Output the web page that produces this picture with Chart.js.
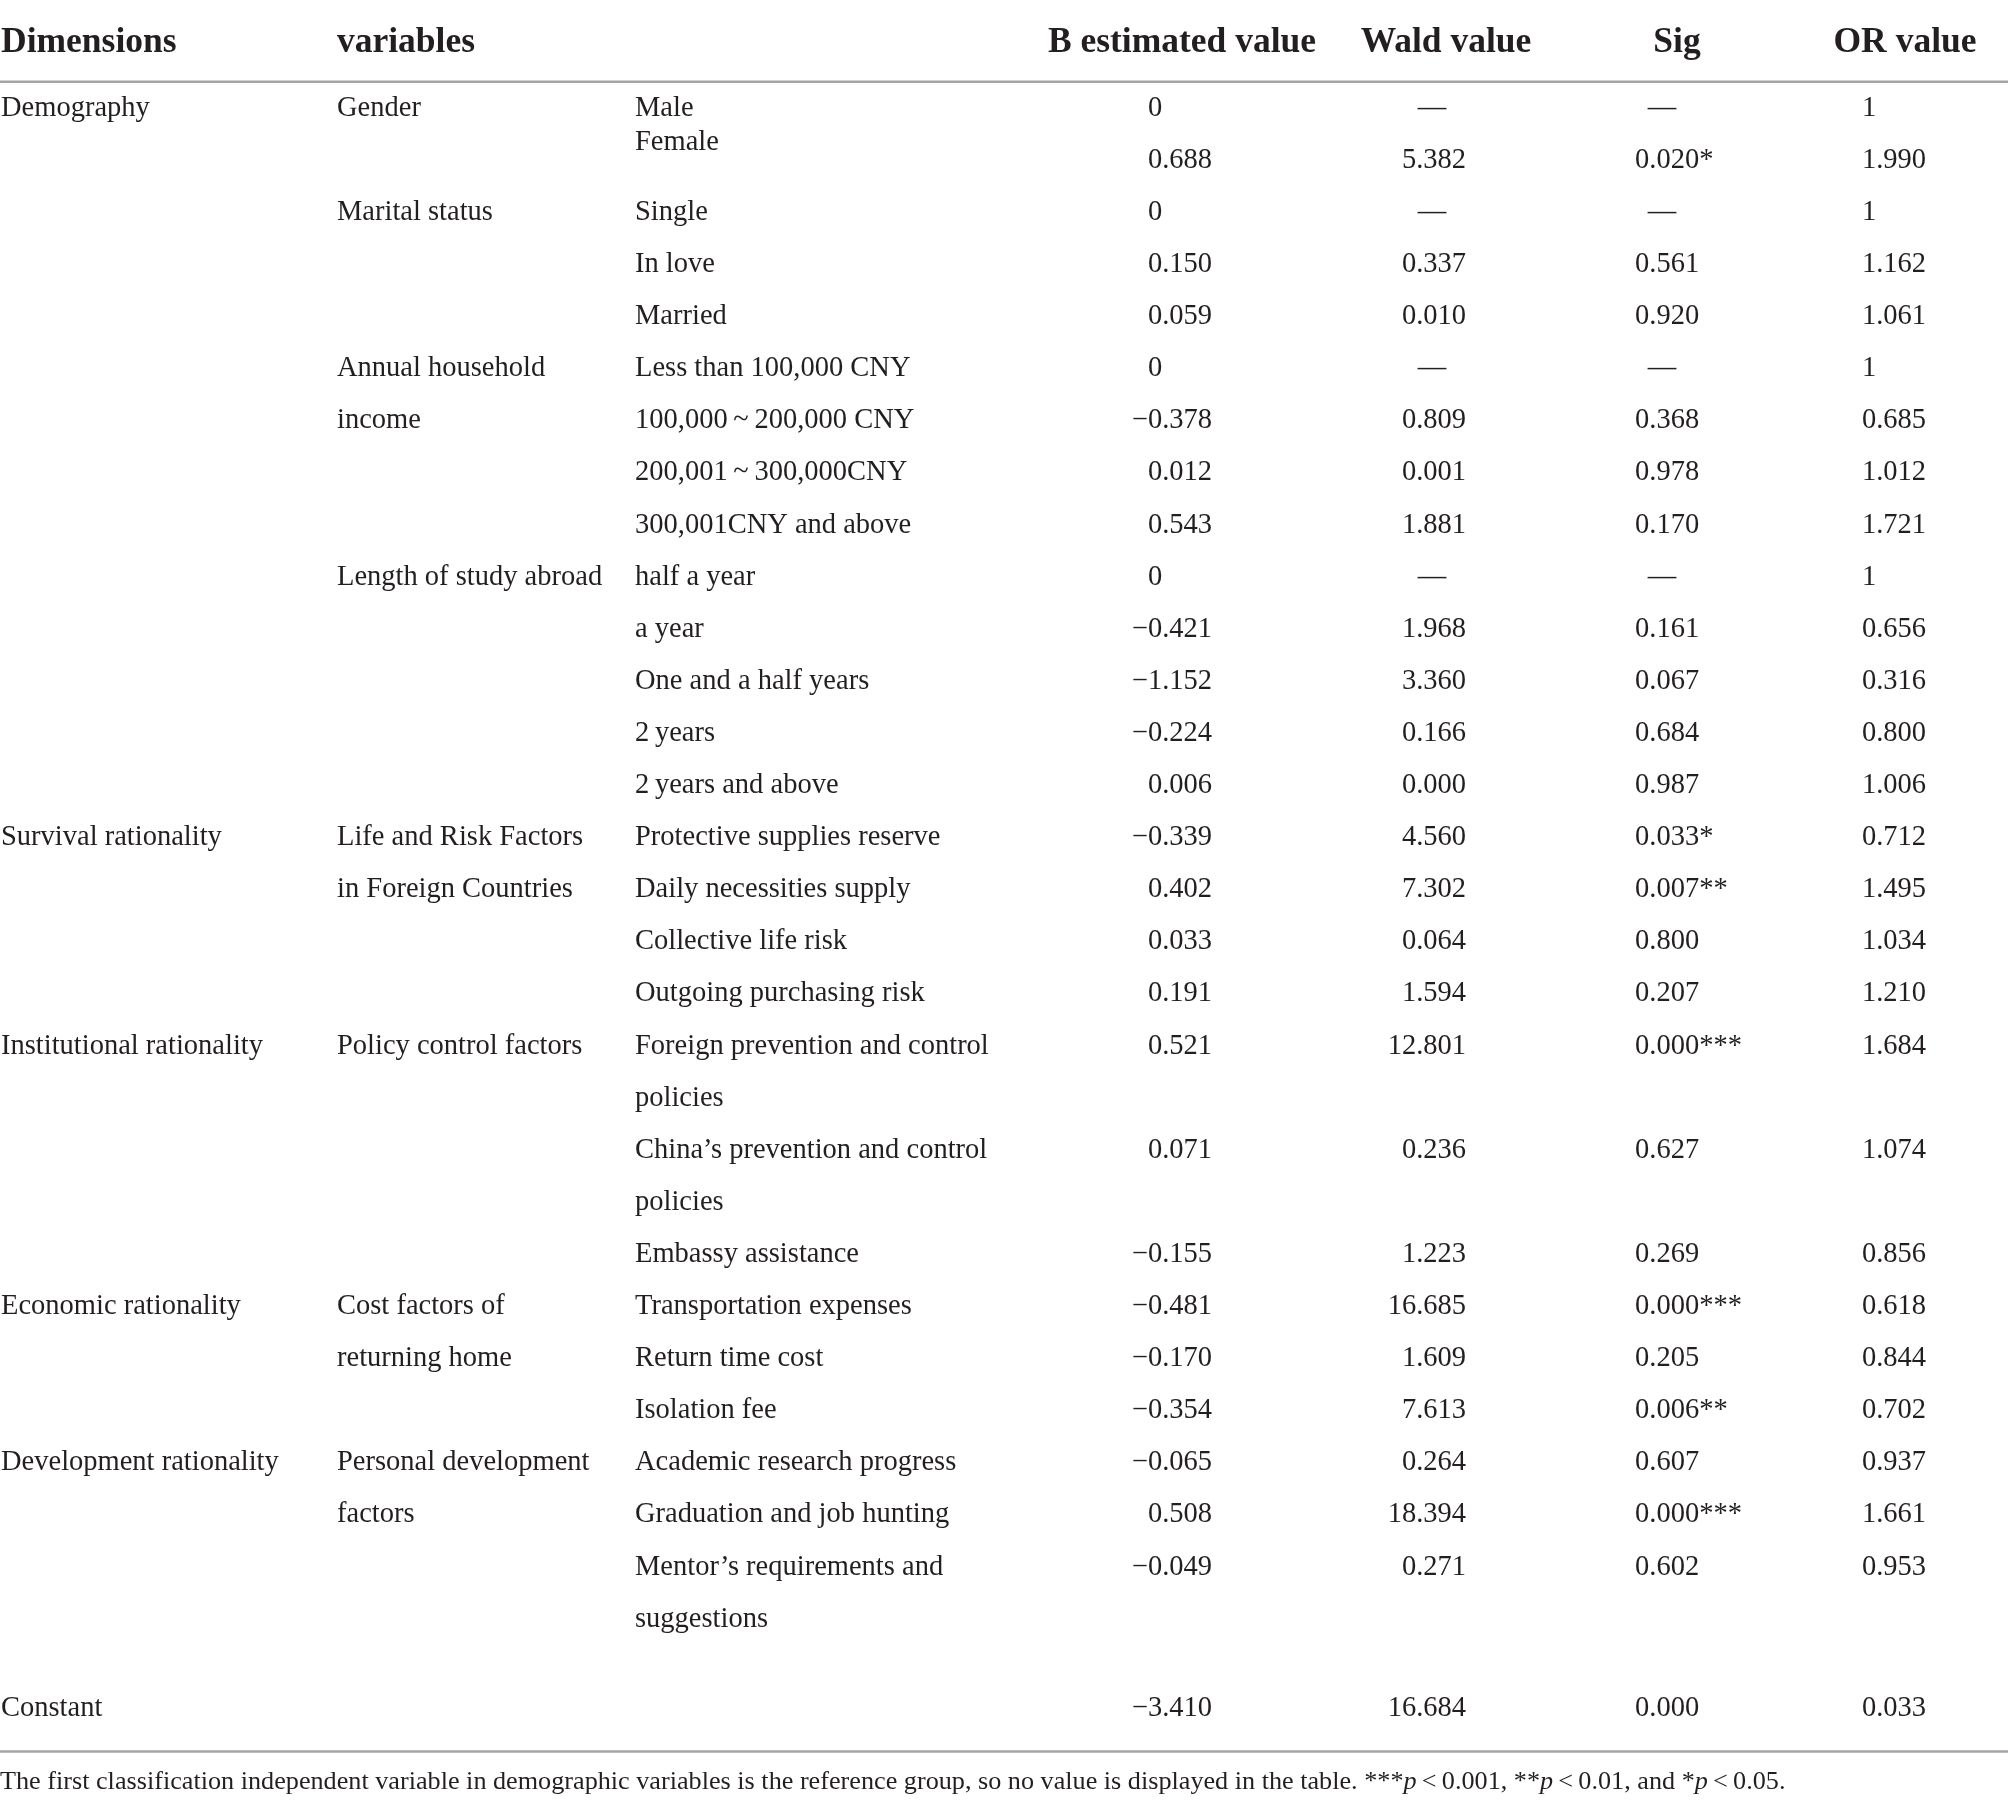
<!DOCTYPE html>
<html>
<head>
<meta charset="utf-8">
<script src="https://cdn.jsdelivr.net/npm/chart.js@4.4.1/dist/chart.umd.min.js"></script>
<style>
  html, body { margin: 0; padding: 0; background: #fff; }
  #wrap { position: relative; width: 2008px; height: 1807px; }
</style>
</head>
<body>
<div id="wrap"><canvas id="tbl"></canvas></div>
<script>
// ══════════════════════════════════════════════
//  DATA
// ══════════════════════════════════════════════
const headers = ['Dimensions', 'variables', 'B estimated value', 'Wald value', 'Sig', 'OR value'];

const dimensionNames = ['Demography', 'Survival rationality', 'Institutional rationality', 'Economic rationality', 'Development rationality'];

const variableNames = ['Gender', 'Marital status', 'Annual household\nincome', 'Length of study abroad',
  'Life and Risk Factors\nin Foreign Countries', 'Policy control factors', 'Cost factors of\nreturning home',
  'Personal development\nfactors'];
const variableDimension = [0, 0, 0, 0, 1, 2, 3, 4];

const categoryNames = ['Male', 'Female', 'Single', 'In love', 'Married',
  'Less than 100,000 CNY', '100,000\u2009~\u2009200,000 CNY', '200,001\u2009~\u2009300,000CNY', '300,001CNY and above',
  'half a year', 'a year', 'One and a half years', '2\u2009years', '2\u2009years and above',
  'Protective supplies reserve', 'Daily necessities supply', 'Collective life risk', 'Outgoing purchasing risk',
  'Foreign prevention and control\npolicies', 'China\u2019s prevention and control\npolicies', 'Embassy assistance',
  'Transportation expenses', 'Return time cost', 'Isolation fee',
  'Academic research progress', 'Graduation and job hunting', 'Mentor\u2019s requirements and\nsuggestions'];
const categoryVariable = [0, 0, 1, 1, 1, 2, 2, 2, 2, 3, 3, 3, 3, 3, 4, 4, 4, 4, 5, 5, 5, 6, 6, 6, 7, 7, 7];

const bValues = ['0', '0.688', '0', '0.150', '0.059', '0', '−0.378', '0.012', '0.543',
  '0', '−0.421', '−1.152', '−0.224', '0.006', '−0.339', '0.402', '0.033', '0.191',
  '0.521', '0.071', '−0.155', '−0.481', '−0.170', '−0.354', '−0.065', '0.508', '−0.049'];
const waldValues = ['—', '5.382', '—', '0.337', '0.010', '—', '0.809', '0.001', '1.881',
  '—', '1.968', '3.360', '0.166', '0.000', '4.560', '7.302', '0.064', '1.594',
  '12.801', '0.236', '1.223', '16.685', '1.609', '7.613', '0.264', '18.394', '0.271'];
const sigValues = ['—', '0.020*', '—', '0.561', '0.920', '—', '0.368', '0.978', '0.170',
  '—', '0.161', '0.067', '0.684', '0.987', '0.033*', '0.007**', '0.800', '0.207',
  '0.000***', '0.627', '0.269', '0.000***', '0.205', '0.006**', '0.607', '0.000***', '0.602'];
const orValues = ['1', '1.990', '1', '1.162', '1.061', '1', '0.685', '1.012', '1.721',
  '1', '0.656', '0.316', '0.800', '1.006', '0.712', '1.495', '1.034', '1.210',
  '1.684', '1.074', '0.856', '0.618', '0.844', '0.702', '0.937', '1.661', '0.953'];

const constantRow = ['Constant', '−3.410', '16.684', '0.000', '0.033'];

// footnote pieces: [text, italic]
const footnote = [
  ['The first classification independent variable in demographic variables is the reference group, so no value is displayed in the table. ***', false],
  ['p', true], ['\u2009<\u20090.001, **', false], ['p', true], ['\u2009<\u20090.01, and *', false],
  ['p', true], ['\u2009<\u20090.05.', false]
];

// ══════════════════════════════════════════════
//  LAYOUT
// ══════════════════════════════════════════════
const FONT = '"Liberation Serif", "Times New Roman", serif';
const INK = '#231f20';
const RULE = '#a4a4a4';
const BODY_PX = 28.5, HEAD_PX = 35.5, NOTE_PX = 26.2;

// column anchors, in reference pixel units on the x scale
const X = { dim: 1, var: 337, cat: 635, b: 1212, wald: 1466, sig: 1635, or: 1926 };
const DASH_X = { b: 1157, wald: 1432, sig: 1662, or: 1870 };
const HEAD_X = [1, 337, 1182, 1446, 1677, 1905];
const HEAD_ALIGN = ['left', 'left', 'center', 'center', 'center', 'center'];

// line slots on the y scale
const catSlot = [];
let slot = 0;
categoryNames.forEach(c => { catSlot.push(slot); slot += c.split('\n').length; });
const varSlot = variableNames.map((_, v) => catSlot[categoryVariable.indexOf(v)]);
const dimSlot = dimensionNames.map((_, d) => varSlot[variableDimension.indexOf(d)]);
const CONST_SLOT = slot + 0.72;
const HEAD_SLOT = -1.27, TOP_RULE = -0.47, BOTTOM_RULE = CONST_SLOT + 0.86, NOTE_SLOT = CONST_SLOT + 1.42;
const FEMALE_NUDGE = -0.34;   // the source sets the "Female" label a little higher than its values

const pts = (xv, slots) => slots.map(s => ({ x: xv, y: s }));
const constRowSlot = [CONST_SLOT];

const datasets = [
  { kind: 'dim', text: dimensionNames, data: pts(X.dim, dimSlot) },
  { kind: 'var', text: variableNames, data: pts(X.var, varSlot) },
  { kind: 'cat', text: categoryNames, data: pts(X.cat, catSlot.map((s, i) => i === 1 ? s + FEMALE_NUDGE : s)) },
  { kind: 'b', text: bValues, data: pts(X.b, catSlot) },
  { kind: 'wald', text: waldValues, data: pts(X.wald, catSlot) },
  { kind: 'sig', text: sigValues, data: pts(X.sig, catSlot) },
  { kind: 'or', text: orValues, data: pts(X.or, catSlot) },
  { kind: 'dim', text: [constantRow[0]], data: pts(X.dim, constRowSlot) },
  { kind: 'b', text: [constantRow[1]], data: pts(X.b, constRowSlot) },
  { kind: 'wald', text: [constantRow[2]], data: pts(X.wald, constRowSlot) },
  { kind: 'sig', text: [constantRow[3]], data: pts(X.sig, constRowSlot) },
  { kind: 'or', text: [constantRow[4]], data: pts(X.or, constRowSlot) }
].map(d => ({ ...d, pointRadius: 0, pointHoverRadius: 0, showLine: false }));

// ══════════════════════════════════════════════
//  TABLE PLUGIN
// ══════════════════════════════════════════════
const tablePlugin = {
  id: 'tableText',
  afterDatasetsDraw(chart) {
    const { ctx, scales: { x, y } } = chart;
    const pitch = y.getPixelForValue(1) - y.getPixelForValue(0);
    ctx.save();
    ctx.fillStyle = INK;
    ctx.textBaseline = 'alphabetic';

    // header
    ctx.font = `bold ${HEAD_PX}px ${FONT}`;
    const hy = y.getPixelForValue(HEAD_SLOT) + HEAD_PX * 0.331;
    headers.forEach((h, i) => {
      ctx.textAlign = HEAD_ALIGN[i];
      ctx.fillText(h, x.getPixelForValue(HEAD_X[i]), hy);
    });

    // rules
    ctx.strokeStyle = RULE;
    ctx.lineWidth = 2.5;
    [TOP_RULE, BOTTOM_RULE].forEach(r => {
      const py = y.getPixelForValue(r);
      ctx.beginPath();
      ctx.moveTo(x.getPixelForValue(0), py);
      ctx.lineTo(x.getPixelForValue(2008), py);
      ctx.stroke();
    });

    // cells
    ctx.font = `${BODY_PX}px ${FONT}`;
    const frac = ctx.measureText('.000').width;
    chart.data.datasets.forEach((ds, di) => {
      chart.getDatasetMeta(di).data.forEach((pt, j) => {
        const txt = ds.text[j];
        const by = pt.y + BODY_PX * 0.331;
        if (['dim', 'var', 'cat'].includes(ds.kind)) {
          ctx.textAlign = 'left';
          txt.split('\n').forEach((line, k) => ctx.fillText(line, pt.x, by + k * pitch));
          return;
        }
        if (txt === '—') {
          ctx.textAlign = 'center';
          ctx.fillText(txt, x.getPixelForValue(DASH_X[ds.kind]), by);
        } else if (ds.kind === 'sig') {
          ctx.textAlign = 'left';
          ctx.fillText(txt, pt.x, by);
        } else {
          ctx.textAlign = 'right';
          ctx.fillText(txt, txt.includes('.') ? pt.x : pt.x - frac, by);
        }
      });
    });

    // footnote
    let fx = x.getPixelForValue(0);
    const fy = y.getPixelForValue(NOTE_SLOT) + NOTE_PX * 0.331;
    ctx.textAlign = 'left';
    footnote.forEach(([t, it]) => {
      ctx.font = `${it ? 'italic ' : ''}${NOTE_PX}px ${FONT}`;
      ctx.fillText(t, fx, fy);
      fx += ctx.measureText(t).width;
    });
    ctx.restore();
  }
};

new Chart(document.getElementById('tbl'), {
  type: 'scatter',
  data: { datasets },
  options: {
    responsive: true,
    maintainAspectRatio: false,
    animation: false,
    events: [],
    layout: { padding: 0 },
    plugins: { legend: { display: false }, tooltip: { enabled: false } },
    scales: {
      x: { type: 'linear', min: 0, max: 2008, display: false },
      y: { type: 'linear', min: -2.040, max: 32.643, reverse: true, display: false }
    }
  },
  plugins: [tablePlugin]
});
</script>
</body>
</html>
